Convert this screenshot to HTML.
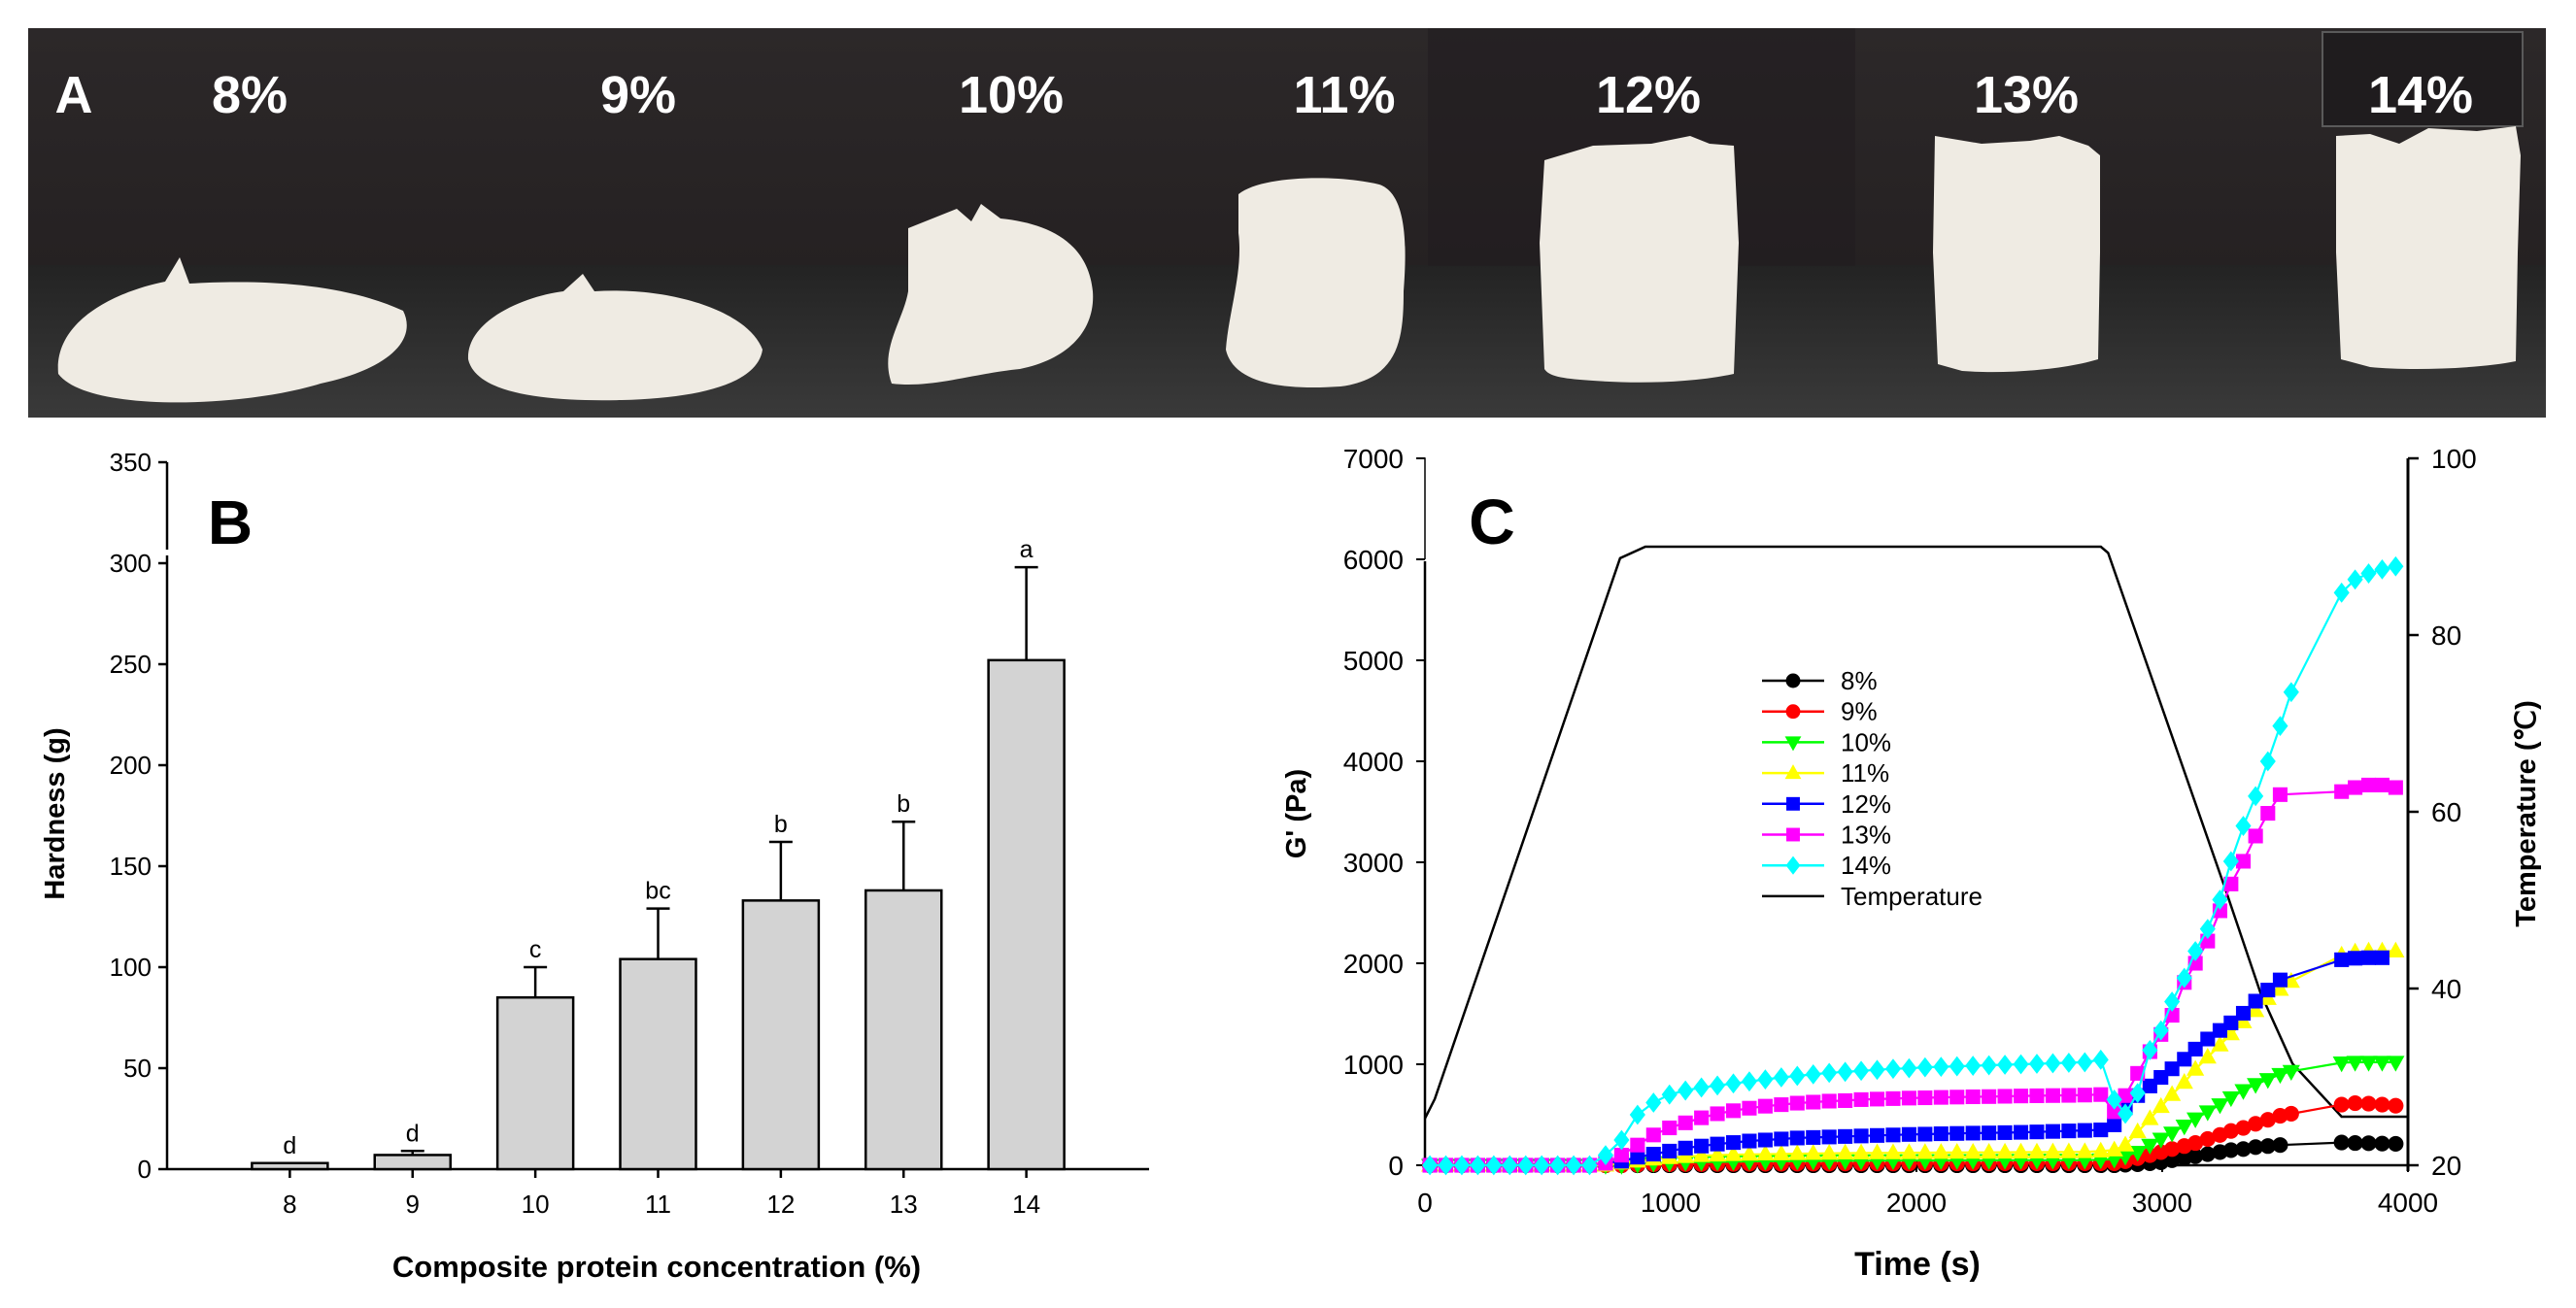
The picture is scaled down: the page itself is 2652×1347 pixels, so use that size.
<!DOCTYPE html>
<html><head><meta charset="utf-8">
<style>
html,body{margin:0;padding:0;background:#fff;}
svg{display:block;}
text{font-family:"Liberation Sans Narrow","Liberation Sans",Arial,sans-serif;}
.b{font-family:"Liberation Sans",Arial,sans-serif;font-weight:bold;}
</style></head>
<body>
<svg id="fig" width="2652" height="1347" viewBox="0 0 2652 1347" xmlns="http://www.w3.org/2000/svg">
  <!-- Panel A photo -->
  <g id="photo">
    <defs>
      <linearGradient id="bgTop" x1="0" y1="0" x2="0" y2="1">
        <stop offset="0" stop-color="#2c2829"/><stop offset="1" stop-color="#252122"/>
      </linearGradient>
      <linearGradient id="bgBot" x1="0" y1="0" x2="0" y2="1">
        <stop offset="0" stop-color="#232323"/><stop offset="1" stop-color="#3a3a3a"/>
      </linearGradient>
    </defs>
    <rect x="29" y="29" width="2592" height="246" fill="url(#bgTop)"/>
    <rect x="29" y="273" width="2592" height="157" fill="url(#bgBot)"/>
    <rect x="1470" y="29" width="440" height="245" fill="#211d20" opacity="0.6"/>
    <rect x="2391" y="33" width="206" height="97" fill="#1f1c1e" stroke="#5a5a5a" stroke-width="2"/>
    <g fill="#efebe3">
      <path d="M60,385 C55,330 120,300 170,290 L185,265 L195,292 C260,288 350,290 415,320 C430,350 400,380 330,395 C250,420 90,425 60,385 Z"/>
      <path d="M482,370 C480,330 540,305 580,300 L600,282 L612,300 C690,295 770,320 785,360 C780,395 720,410 640,412 C560,414 490,405 482,370 Z"/>
      <path d="M935,235 L985,215 L1000,228 L1010,210 L1030,225 C1080,230 1120,250 1125,300 C1128,340 1100,370 1050,380 C1000,385 960,400 918,395 C905,360 930,330 935,300 Z"/>
      <path d="M1275,200 C1300,180 1380,180 1420,190 C1450,200 1448,260 1445,300 C1445,350 1440,390 1380,398 C1320,402 1270,395 1262,360 C1265,320 1280,280 1275,240 Z"/>
      <path d="M1590,165 L1640,150 L1700,148 L1740,140 L1760,148 L1785,150 L1790,250 L1785,385 C1740,395 1680,395 1640,392 C1610,390 1595,388 1590,380 L1585,250 Z"/>
      <path d="M1992,140 L2040,148 L2090,145 L2120,140 L2150,150 L2162,160 L2162,260 L2160,370 C2120,382 2060,385 2020,382 L1995,375 L1990,260 Z"/>
      <path d="M2405,140 L2440,138 L2470,148 L2500,132 L2550,135 L2590,130 L2595,160 L2592,260 L2590,372 C2550,380 2480,382 2440,378 L2410,370 L2405,260 Z"/>
    </g>
    <g fill="#ffffff" class="b" font-size="54" text-anchor="middle">
      <text x="76" y="116">A</text>
      <text x="257" y="116">8%</text>
      <text x="657" y="116">9%</text>
      <text x="1041" y="116">10%</text>
      <text x="1384" y="116">11%</text>
      <text x="1697" y="116">12%</text>
      <text x="2086" y="116">13%</text>
      <text x="2492" y="116">14%</text>
    </g>
  </g>
  <g id="chartB"></g>
  <g id="chartC"></g>
</svg>
<script>
// ===== Panel B data =====
const bCategories = [8, 9, 10, 11, 12, 13, 14];
const bValues = [3, 7, 85, 104, 133, 138, 252];
const bErrUpper = [3, 9, 100, 129, 162, 172, 298];
const bLetters = ['d', 'd', 'c', 'bc', 'b', 'b', 'a'];
const bTicks = [0, 50, 100, 150, 200, 250, 300, 350];

// ===== Panel C data =====
const cTimes = [20,85,150,215,280,345,410,475,540,605,670,735,800,865,930,995,1060,1125,1190,1255,1320,1385,1450,1515,1580,1645,1710,1775,1840,1905,1970,2035,2100,2165,2230,2295,2360,2425,2490,2555,2620,2685,2750,
  2805,2850,2900,2950,2995,3040,3090,3135,3185,3235,3280,3330,3380,3430,3480,3525,3730,3785,3840,3895,3950];
const g8 = [0,0,0,0,0,0,0,0,0,0,0,0,0,0,0,0,0,0,0,0,0,0,0,0,0,0,0,0,0,0,0,0,0,0,0,0,0,0,0,0,0,0,0,
  0,5,10,20,30,50,70,90,110,130,150,160,180,190,200,null,225,220,218,215,212];
const g9 = [0,0,0,0,0,0,0,0,0,0,0,0,0,5,10,10,12,12,14,14,15,15,15,16,16,16,17,17,17,18,18,18,18,19,19,19,20,20,20,20,20,20,20,
  20,40,70,100,130,160,190,220,260,300,340,370,410,450,490,510,600,615,610,600,590];
const g10 = [0,0,0,0,0,0,0,0,0,0,0,0,0,10,20,25,30,32,34,36,38,40,40,42,42,44,44,45,45,46,46,47,47,48,48,48,49,49,50,50,50,50,55,
  60,90,130,200,260,320,390,460,530,600,670,740,800,850,900,930,1015,1020,1020,1020,1020];
const g11 = [0,0,0,0,0,0,0,0,0,0,0,0,20,40,60,75,85,95,100,105,108,110,112,114,116,118,120,121,122,123,124,125,126,127,128,128,129,130,130,131,132,133,140,
  150,200,330,460,580,700,820,950,1070,1190,1300,1420,1530,1650,1740,1820,2080,2110,2120,2120,2120];
const g12 = [0,0,0,0,0,0,0,0,0,0,0,20,40,80,110,140,170,190,210,225,240,250,260,270,275,280,285,290,295,300,305,308,312,315,318,320,323,326,330,335,340,345,350,
  400,570,690,785,870,955,1050,1150,1250,1335,1410,1505,1625,1735,1835,null,2035,2050,2055,2055,null];
const g13 = [0,0,0,0,0,0,0,0,0,0,0,20,100,200,300,370,420,470,510,540,565,585,600,615,625,635,640,650,655,660,665,668,672,675,678,680,683,686,688,690,692,695,700,
  530,690,910,1125,1295,1485,1810,2000,2220,2520,2785,3010,3260,3485,3670,null,3700,3740,3765,3765,3740];
const g14 = [0,0,0,0,0,0,0,0,0,0,0,100,250,500,620,700,740,770,790,810,830,850,870,885,900,915,925,935,945,955,960,970,975,980,985,990,995,1000,1005,1010,1015,1020,1045,
  650,510,715,1140,1335,1620,1855,2120,2340,2630,3010,3360,3655,4000,4350,4685,5670,5800,5860,5900,5930];
const tempTimes = [0, 40, 794, 897, 2750, 2780, 3260, 3400, 3530, 3730, 4000];
const tempValues = [25.3, 27.5, 88.7, 90, 90, 89.3, 51, 39.5, 31.5, 25.5, 25.5];
const seriesNames = ['8%', '9%', '10%', '11%', '12%', '13%', '14%'];
const seriesColors = ['#000000', '#ff0000', '#00ff00', '#ffff00', '#0000ff', '#ff00ff', '#00ffff'];
const seriesMarkers = ['circle', 'circle', 'tdown', 'tup', 'square', 'square', 'diamond'];
const seriesData = [g8, g9, g10, g11, g12, g13, g14];
const cXTicks = [0, 1000, 2000, 3000, 4000];
const cYTicks = [0, 1000, 2000, 3000, 4000, 5000, 6000, 7000];
const cY2Ticks = [20, 40, 60, 80, 100];

const NS = 'http://www.w3.org/2000/svg';
function mk(tag, attrs, parent, txt) {
  const e = document.createElementNS(NS, tag);
  for (const k in attrs) e.setAttribute(k, attrs[k]);
  if (txt !== undefined) e.textContent = txt;
  parent.appendChild(e);
  return e;
}

// ===== Draw Panel B =====
(function () {
  const g = document.getElementById('chartB');
  const x0 = 172, x1 = 1183, yTop = 476, yBot = 1204;
  const xs = v => x0 + (v - 7) * (x1 - x0) / 8;
  const ys = v => yBot - v * (yBot - yTop) / 350;
  // axes
  let a = mk('path', {d: `M${x0},${yTop} V566 M${x0},572 V${yBot}`, stroke: '#000', 'stroke-width': 2.5, fill: 'none'}, g);
  
  
  a = mk('line', {x1: x0, y1: yBot, x2: x1, y2: yBot, stroke: '#000', 'stroke-width': 2.5}, g);
  
  
  bTicks.forEach(t => {
    const y = ys(t);
    mk('line', {x1: x0 - 9, y1: y, x2: x0, y2: y, stroke: '#000', 'stroke-width': 2.5}, g);
    const tx = mk('text', {x: x0 - 16, y: y + 9, 'font-size': 26, 'text-anchor': 'end'}, g, String(t));
    
    
  });
  const bw = 78;
  bCategories.forEach((c, i) => {
    const cx = xs(c);
    mk('line', {x1: cx, y1: yBot, x2: cx, y2: yBot + 9, stroke: '#000', 'stroke-width': 2.5}, g);
    const tl = mk('text', {x: cx, y: yBot + 45, 'font-size': 26, 'text-anchor': 'middle'}, g, String(c));
    
    
    const yv = ys(bValues[i]);
    const r = mk('rect', {x: cx - bw / 2, y: yv, width: bw, height: yBot - yv, fill: '#d3d3d3', stroke: '#000', 'stroke-width': 2.5}, g);
    
    
    const ye = ys(bErrUpper[i]);
    const eb = mk('path', {d: `M${cx},${yv} V${ye} M${cx - 12},${ye} H${cx + 12}`, stroke: '#000', 'stroke-width': 2.5, fill: 'none'}, g);
    
    
    const lt = mk('text', {x: cx, y: ye - 10, 'font-size': 25, 'text-anchor': 'middle'}, g, bLetters[i]);
    
    
  });
  let t = mk('text', {x: 237, y: 560, 'font-size': 64, 'text-anchor': 'middle', class: 'b'}, g, 'B');
  
  
  t = mk('text', {x: 0, y: 0, 'font-size': 29, 'text-anchor': 'middle', class: 'b', transform: 'translate(66,838) rotate(-90)'}, g, 'Hardness (g)');
  
  
  t = mk('text', {x: 676, y: 1315, 'font-size': 31, 'text-anchor': 'middle', class: 'b'}, g, 'Composite protein concentration (%)');
  
  
})();

// ===== Draw Panel C =====
(function () {
  const g = document.getElementById('chartC');
  const x0 = 1467, x1 = 2479, yTop = 472, yBot = 1200;
  const xs = t => x0 + t * (x1 - x0) / 4000;
  const ys = v => yBot - v * (yBot - yTop) / 7000;
  const ys2 = v => yBot - (v - 20) * (yBot - yTop) / 80;
  let a = mk('path', {d: `M${x0 - 8},${yTop} H${x0} V576`, stroke: '#000', 'stroke-width': 1.5, fill: 'none'}, g);
  
  
  a = mk('line', {x1: x0, y1: 578, x2: x0, y2: yBot, stroke: '#000', 'stroke-width': 2.5}, g);
  
  
  a = mk('line', {x1: x1, y1: yTop, x2: x1, y2: yBot + 6, stroke: '#000', 'stroke-width': 3}, g);
  
  
  a = mk('line', {x1: x0, y1: yBot, x2: x1, y2: yBot, stroke: '#000', 'stroke-width': 2.5}, g);
  
  
  cYTicks.forEach(v => {
    const y = ys(v);
    mk('line', {x1: x0 - 9, y1: y, x2: x0, y2: y, stroke: '#000', 'stroke-width': 2}, g);
    const tx = mk('text', {x: x0 - 22, y: y + 10, 'font-size': 28, 'text-anchor': 'end'}, g, String(v));
    
    
  });
  cY2Ticks.forEach(v => {
    const y = ys2(v);
    mk('line', {x1: x1, y1: y, x2: x1 + 11, y2: y, stroke: '#000', 'stroke-width': 2.5}, g);
    const tx = mk('text', {x: x1 + 24, y: y + 10, 'font-size': 28, 'text-anchor': 'start'}, g, String(v));
    
    
  });
  cXTicks.forEach(v => {
    const x = xs(v);
    mk('line', {x1: x, y1: yBot - 5, x2: x, y2: yBot + 7, stroke: '#000', 'stroke-width': 2}, g);
    const tx = mk('text', {x: x, y: yBot + 48, 'font-size': 28, 'text-anchor': 'middle'}, g, String(v));
    
    
  });
  // temperature line
  const tp = tempTimes.map((t, i) => `${i ? 'L' : 'M'}${xs(t).toFixed(1)},${ys2(tempValues[i]).toFixed(1)}`).join(' ');
  const tl = mk('path', {d: tp, stroke: '#000', 'stroke-width': 2.5, fill: 'none'}, g);
  
  

  function marker(parent, type, x, y, col, s) {
    let e;
    if (type === 'circle') e = mk('circle', {cx: x, cy: y, r: s * 0.62, fill: col}, parent);
    else if (type === 'square') e = mk('rect', {x: x - s * 0.58, y: y - s * 0.58, width: s * 1.16, height: s * 1.16, fill: col}, parent);
    else if (type === 'tup') e = mk('path', {d: `M${x},${y - s * 0.75} L${x + s * 0.7},${y + s * 0.5} L${x - s * 0.7},${y + s * 0.5} Z`, fill: col}, parent);
    else if (type === 'tdown') e = mk('path', {d: `M${x},${y + s * 0.75} L${x + s * 0.7},${y - s * 0.5} L${x - s * 0.7},${y - s * 0.5} Z`, fill: col}, parent);
    else e = mk('path', {d: `M${x},${y - s * 0.8} L${x + s * 0.62},${y} L${x},${y + s * 0.8} L${x - s * 0.62},${y} Z`, fill: col}, parent);
    return e;
  }
  // series (drawn 8% first, 14% last)
  seriesData.forEach((arr, si) => {
    const sg = mk('g', {}, g);
    
    
    const pts = [];
    arr.forEach((v, i) => { if (v !== null) pts.push([xs(cTimes[i]), ys(v)]); });
    mk('path', {d: pts.map((p, i) => `${i ? 'L' : 'M'}${p[0].toFixed(1)},${p[1].toFixed(1)}`).join(' '), stroke: seriesColors[si], 'stroke-width': 2.2, fill: 'none'}, sg);
    pts.forEach(p => {
      const m = marker(sg, seriesMarkers[si], p[0], p[1], seriesColors[si], 13);
      
      
    });
  });
  // legend
  const lg = mk('g', {}, g);
  
  
  const ly0 = 701, ldy = 31.7;
  seriesNames.forEach((n, i) => {
    const y = ly0 + i * ldy;
    const eg = mk('g', {}, lg);
    
    
    mk('line', {x1: 1814, y1: y, x2: 1878, y2: y, stroke: seriesColors[i], 'stroke-width': 2.5}, eg);
    marker(eg, seriesMarkers[i], 1846, y, seriesColors[i], 12);
    mk('text', {x: 1895, y: y + 9, 'font-size': 26}, eg, n);
  });
  const ty = ly0 + 7 * ldy;
  const te = mk('g', {}, lg);
  
  
  mk('line', {x1: 1814, y1: ty, x2: 1878, y2: ty, stroke: '#000', 'stroke-width': 2.5}, te);
  mk('text', {x: 1895, y: ty + 9, 'font-size': 26}, te, 'Temperature');

  let t = mk('text', {x: 1536, y: 560, 'font-size': 66, 'text-anchor': 'middle', class: 'b'}, g, 'C');
  
  
  t = mk('text', {x: 0, y: 0, 'font-size': 29, 'text-anchor': 'middle', class: 'b', transform: 'translate(1344,838) rotate(-90)'}, g, "G' (Pa)");
  
  
  t = mk('text', {x: 0, y: 0, 'font-size': 29, 'text-anchor': 'middle', class: 'b', transform: 'translate(2610,838) rotate(-90)'}, g, 'Temperature (℃)');
  
  
  t = mk('text', {x: 1974, y: 1313, 'font-size': 34, 'text-anchor': 'middle', class: 'b'}, g, 'Time (s)');
  
  
})();
</script>
</body></html>
